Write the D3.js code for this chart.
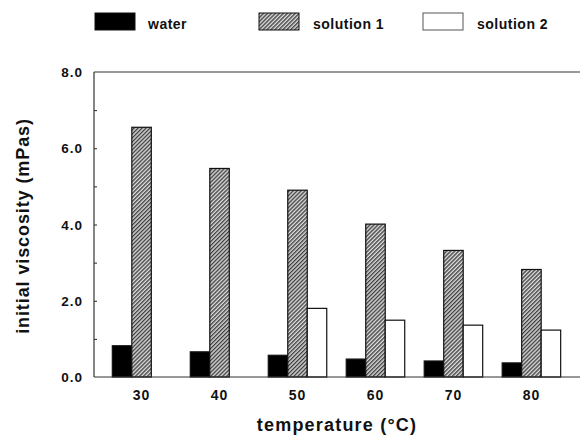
<!DOCTYPE html>
<html>
<head>
<meta charset="utf-8">
<script src="https://cdn.jsdelivr.net/npm/d3@7"></script>
<style>
  body { margin: 0; background: #fff; }
  text { font-family: "Liberation Sans", Arial, sans-serif; font-weight: bold; fill: #111; }
</style>
</head>
<body>
<div id="chart"></div>
<script>
// chart data
var temperatures = ["30", "40", "50", "60", "70", "80"];
var seriesNames = ["water", "solution 1", "solution 2"];
var water = [0.82, 0.66, 0.57, 0.47, 0.42, 0.37];
var solution1 = [6.55, 5.47, 4.90, 4.01, 3.32, 2.82];
var solution2 = [0, 0, 1.80, 1.49, 1.36, 1.23];
var yTicks = [0, 2, 4, 6, 8];
var yMinorTicks = [1, 2, 3, 4, 5, 6, 7];

var width = 580,
    height = 435;

var svg = d3.select("#chart").append("svg")
    .attr("width", width)
    .attr("height", height);

// hatch pattern for solution 1
var defs = svg.append("defs");
var pat = defs.append("pattern")
    .attr("id", "hatch")
    .attr("patternUnits", "userSpaceOnUse")
    .attr("width", 2.8)
    .attr("height", 2.8)
    .attr("patternTransform", "rotate(45)");
pat.append("rect").attr("width", 2.8).attr("height", 2.8).attr("fill", "#dcdcdc");
pat.append("line")
    .attr("x1", 0.7).attr("y1", 0).attr("x2", 0.7).attr("y2", 2.8)
    .attr("stroke", "#2a2a2a").attr("stroke-width", 1.2);

var fills = ["#000", "url(#hatch)", "#fff"];

// scales
var x = d3.scaleBand()
    .domain(temperatures)
    .range([94, 579])
    .paddingInner(0.25)
    .paddingOuter(0.235);

var xSub = d3.scaleBand()
    .domain(seriesNames)
    .range([0, x.bandwidth()]);

var y = d3.scaleLinear()
    .domain([0, 8])
    .range([377, 72]);

// top frame line runs to the right edge
svg.append("line")
    .attr("x1", 94).attr("x2", 580)
    .attr("y1", y(8)).attr("y2", y(8))
    .attr("stroke", "#333").attr("stroke-width", 1.2);

// bars
var series = [water, solution1, solution2];
series.forEach(function(vals, si) {
  var pts = vals.map(function(v, i) { return {t: temperatures[i], v: v}; })
    .filter(function(d) { return d.v > 0; });
  svg.append("g").selectAll("rect")
    .data(pts)
    .enter().append("rect")
      .attr("x", function(d) { return x(d.t) + xSub(seriesNames[si]); })
      .attr("y", function(d) { return y(d.v); })
      .attr("width", xSub.bandwidth())
      .attr("height", function(d) { return y(0) - y(d.v); })
      .attr("fill", fills[si])
      .attr("stroke", "#111")
      .attr("stroke-width", 1.2);
});

// y axis: minor ticks point inward
var yAxis = d3.axisRight(y)
    .tickValues(yMinorTicks)
    .tickSize(3)
    .tickFormat("");
var ya = svg.append("g")
    .attr("transform", "translate(94,0)")
    .call(yAxis);
ya.select(".domain").remove();
ya.selectAll(".tick line").attr("stroke", "#222");

svg.append("line")
    .attr("x1", 94).attr("x2", 94)
    .attr("y1", y(8)).attr("y2", y(0))
    .attr("stroke", "#333").attr("stroke-width", 1.2);

svg.selectAll(".ylabel")
    .data(yTicks)
  .enter().append("text")
    .attr("class", "ylabel")
    .attr("x", 83)
    .attr("y", function(d) { return y(d) + 5; })
    .attr("text-anchor", "end")
    .style("font-size", "13.5px")
    .style("letter-spacing", "1px")
    .text(function(d) { return d3.format(".1f")(d); });

// x axis
var xAxis = d3.axisBottom(x).tickSize(0).tickPadding(13);
var xa = svg.append("g")
    .attr("transform", "translate(0," + y(0) + ")")
    .call(xAxis);
xa.select(".domain").remove();
xa.selectAll("text")
    .style("font-size", "14px")
    .style("letter-spacing", "1px")
    .style("font-family", "Liberation Sans, Arial, sans-serif")
    .style("font-weight", "bold")
    .attr("fill", "#111");

svg.append("line")
    .attr("x1", 94).attr("x2", 580)
    .attr("y1", y(0)).attr("y2", y(0))
    .attr("stroke", "#333").attr("stroke-width", 1.2);

// axis titles
svg.append("text")
    .attr("x", 337)
    .attr("y", 431)
    .attr("text-anchor", "middle")
    .style("font-size", "18px")
    .style("letter-spacing", "1.2px")
    .text("temperature (°C)");

svg.append("text")
    .attr("transform", "translate(29,226) rotate(-90)")
    .attr("text-anchor", "middle")
    .style("font-size", "18px")
    .style("letter-spacing", "0.9px")
    .text("initial viscosity (mPas)");

// legend
var legendX = [95, 259, 423];
var leg = svg.selectAll(".legend")
    .data(seriesNames)
  .enter().append("g")
    .attr("class", "legend")
    .attr("transform", function(d, i) { return "translate(" + legendX[i] + ",13)"; });

leg.append("rect")
    .attr("width", 40)
    .attr("height", 17)
    .attr("fill", function(d, i) { return fills[i]; })
    .attr("stroke", function(d, i) { return i == 2 ? "#555" : "#111"; })
    .attr("stroke-width", 1);

leg.append("text")
    .attr("x", function(d, i) { return i == 0 ? 53 : 54; })
    .attr("y", 16)
    .style("font-size", "14px")
    .style("letter-spacing", "0.5px")
    .text(function(d) { return d; });
</script>
</body>
</html>
